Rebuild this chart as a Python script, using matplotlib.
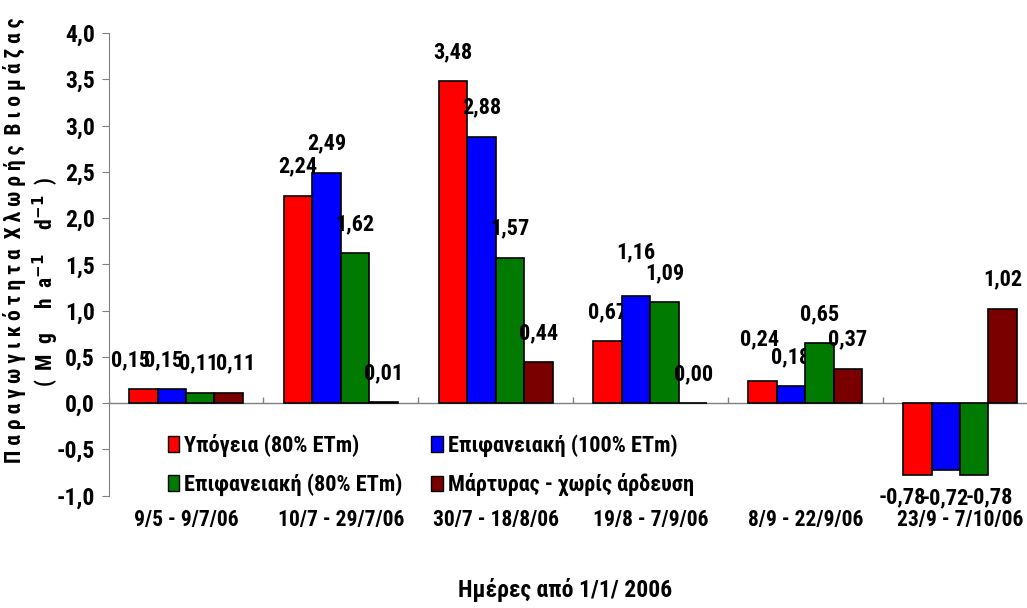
import matplotlib
matplotlib.use("Agg")
import matplotlib.pyplot as plt
import numpy as np
from matplotlib.patches import Patch

plt.rcParams['font.family'] = ['Roboto Condensed', 'DejaVu Sans']
plt.rcParams['font.weight'] = 'bold'

categories = ["9/5 - 9/7/06", "10/7 - 29/7/06", "30/7 - 18/8/06",
              "19/8 - 7/9/06", "8/9 - 22/9/06", "23/9 - 7/10/06"]
series_names = ["Υπόγεια (80% ETm)", "Επιφανειακή (100% ETm)",
                "Επιφανειακή (80% ETm)", "Μάρτυρας - χωρίς άρδευση"]
ypogeia_80 = [0.15, 2.24, 3.48, 0.67, 0.24, -0.78]
epif_100 = [0.15, 2.49, 2.88, 1.16, 0.18, -0.72]
epif_80 = [0.11, 1.62, 1.57, 1.09, 0.65, -0.78]
martyras = [0.11, 0.01, 0.44, 0.00, 0.37, 1.02]
series = [ypogeia_80, epif_100, epif_80, martyras]
colors = ["#FF0000", "#0000FF", "#007A00", "#7A0000"]
yticks = [-1.0, -0.5, 0.0, 0.5, 1.0, 1.5, 2.0, 2.5, 3.0, 3.5, 4.0]

# label nudges (style only): (series, category) -> (dx pt, dy pt)
label_nudge = {(0, 0): (-9, 0), (1, 0): (-6, 0), (2, 0): (-1, 0), (3, 0): (5, 0),
               (1, 3): (0, 10), (0, 4): (-2, 9),
               (0, 5): (-11, 0), (1, 5): (0, -5), (2, 5): (11, 0)}

W, H = 1027, 608
FS = 17
LFS = 16
fig = plt.figure(figsize=(W / 100, H / 100), dpi=100)
ax = fig.add_axes([108.6 / W, 1 - 495.5 / H, 928.8 / W, 462.5 / H])

n = len(categories)
x = np.arange(n)
bw = 0.184
for i, (vals, c) in enumerate(zip(series, colors)):
    pos = x + (i - 1.5) * bw
    ax.bar(pos, vals, width=bw, color=c, edgecolor='black', linewidth=1.2,
           label=series_names[i], zorder=3)
    for j, (px, v) in enumerate(zip(pos, vals)):
        lab = f"{v:.2f}".replace('.', ',')
        dx, dy = label_nudge.get((i, j), (0, 0))
        if v >= 0:
            ax.annotate(lab, (px, v), xytext=(dx, 13 + dy), textcoords='offset points',
                        ha='center', va='bottom', fontsize=LFS, fontweight='bold')
        else:
            ax.annotate(lab, (px, v), xytext=(dx, -8 + dy), textcoords='offset points',
                        ha='center', va='top', fontsize=LFS, fontweight='bold')

ax.set_xlim(-0.5, n - 0.5)
ax.set_ylim(-1.0, 4.0)
ax.set_yticks(yticks)
ax.set_yticklabels([f"{t:.1f}".replace('.', ',') for t in yticks],
                   fontsize=FS, fontweight='bold')
ax.tick_params(axis='y', direction='out', length=5, color='#808080', pad=5)
ax.set_xticks(x)
ax.set_xticklabels(categories, fontsize=15.5, fontweight='bold')
ax.tick_params(axis='x', length=0, pad=10)

for s in ['top', 'right', 'bottom']:
    ax.spines[s].set_visible(False)
ax.spines['left'].set_color('#808080')
ax.axhline(0, color='#808080', linewidth=1.0, zorder=2)
ax.vlines(np.arange(n + 1) - 0.5, 0, 0.06, color='#808080', linewidth=1.0, zorder=2)

# legend order arranged so that rows read: red, blue / green, dark red
order = [0, 2, 1, 3]
handles = [Patch(facecolor=colors[k], edgecolor='black') for k in order]
labels = [series_names[k] for k in order]
leg = ax.legend(handles, labels, ncol=2, loc='upper left',
                bbox_to_anchor=(152 / W, 1 - 418 / H), bbox_transform=fig.transFigure,
                frameon=False, fontsize=16, handlelength=0.5, handleheight=0.7,
                handletextpad=0.25, columnspacing=1.3, labelspacing=0.75,
                borderpad=0.2)

ylab1 = " ".join("Παραγωγικότητα") + "  " + " ".join("Χλωρής") + "  " + " ".join("Βιομάζας")
fig.text(15 / W, 1 - 240 / H, ylab1, rotation=90, ha='center', va='center',
         fontsize=15.5, fontweight='bold')
fig.text(46 / W, 1 - 282 / H, r"(  M  g     h  a$^{\mathbf{-1}}$     d$^{\mathbf{-1}}$  )",
         rotation=90, ha='center', va='center', fontsize=15.5, fontweight='bold')
fig.text(565 / W, 1 - 590 / H, "Ημέρες από 1/1/ 2006", ha='center', va='center',
         fontsize=FS, fontweight='bold')

fig.savefig("out.png", dpi=100)
